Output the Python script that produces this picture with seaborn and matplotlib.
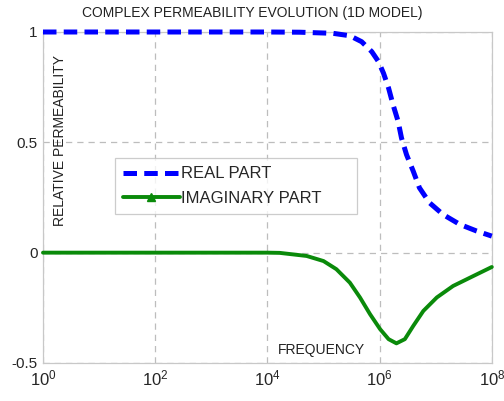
import numpy as np
import pandas as pd
import seaborn as sns
from matplotlib import pyplot as plt
from matplotlib.lines import Line2D
import matplotlib.ticker as mtick

# values (frequency as log10, Hz)
real_logf = [0, 1, 2, 3, 4, 4.58, 5.17, 5.47, 5.68, 5.86, 5.98, 6.07, 6.16, 6.24,
             6.33, 6.39, 6.48, 6.60, 6.71, 6.89, 7.13, 7.43, 7.73, 8.0]
real_part = [1.0, 1.0, 1.0, 1.0, 1.0, 0.999, 0.994, 0.983, 0.956, 0.911, 0.866, 0.813, 0.746, 0.670,
             0.595, 0.52, 0.444, 0.369, 0.294, 0.226, 0.173, 0.128, 0.098, 0.075]

imag_logf = [0, 1, 2, 3, 4, 4.22, 4.70, 5.0, 5.23, 5.47, 5.65, 5.83, 6.01, 6.16, 6.30,
             6.45, 6.60, 6.78, 7.02, 7.31, 7.67, 8.0]
imag_part = [0.0, 0.0, 0.0, 0.0, 0.0, -0.001, -0.015, -0.038, -0.075, -0.136, -0.203, -0.279, -0.347, -0.392, -0.411,
             -0.392, -0.332, -0.264, -0.203, -0.151, -0.106, -0.065]

y_ticks = [-0.5, 0, 0.5, 1]
y_ticklabels = ["-0.5", "0", "0.5", "1"]
x_ticks = [1e0, 1e2, 1e4, 1e6, 1e8]

real_df = pd.DataFrame({"freq": 10.0 ** np.array(real_logf), "mu": real_part})
imag_df = pd.DataFrame({"freq": 10.0 ** np.array(imag_logf), "mu": imag_part})

sns.set_style("white")
plt.rcParams["font.family"] = ["Liberation Sans", "DejaVu Sans"]
plt.rcParams["mathtext.default"] = "regular"

fig = plt.figure(figsize=(5.04, 4.01), dpi=100)
ax = fig.add_axes([0.0853, 0.0948, 0.8905, 0.8254])

blue_ls = (0, (2.7, 1.45))
sns.lineplot(data=real_df, x="freq", y="mu", ax=ax, color="#0000ff",
             linewidth=3.6, linestyle=blue_ls, dash_capstyle="butt",
             clip_on=False, zorder=4)
sns.lineplot(data=imag_df, x="freq", y="mu", ax=ax, color="#0a8a0a",
             linewidth=2.8, clip_on=False, zorder=3)

ax.set_xscale("log")
ax.set_xlim(1e0, 1e8)
ax.set_ylim(-0.5, 1)
ax.set_xticks(x_ticks)
ax.xaxis.set_minor_locator(mtick.NullLocator())
ax.set_yticks(y_ticks)
ax.set_yticklabels(y_ticklabels)
ax.tick_params(axis="x", labelsize=12, direction="in", length=4, color="#b8b8b8", pad=4)
ax.tick_params(axis="y", labelsize=11, direction="in", length=4, color="#b8b8b8", pad=4)

ax.grid(True, color="#bdbdbd", linestyle=(0, (5, 4)), linewidth=0.9)
for sp in ax.spines.values():
    sp.set_color("#c8c8c8")
    sp.set_linewidth(0.9)

ax.set_xlabel("")
ax.set_ylabel("")
ax.text(0.037, 0.672, "RELATIVE PERMEABILITY", transform=ax.transAxes,
        rotation=90, ha="center", va="center", fontsize=10, color="#222222")
ax.text(0.62, 0.04, "FREQUENCY", transform=ax.transAxes,
        ha="center", va="center", fontsize=10, color="#222222")
fig.text(0.5, 0.968, "COMPLEX PERMEABILITY EVOLUTION (1D MODEL)",
         ha="center", va="center", fontsize=10, color="#222222")

handles = [Line2D([], [], color="#0000ff", linewidth=3.6, linestyle=blue_ls),
           Line2D([], [], color="#0a8a0a", linewidth=2.8, marker="^", markersize=6)]
leg = ax.legend(handles, ["REAL PART", "IMAGINARY PART"], loc="upper left",
                bbox_to_anchor=(0.16, 0.4, 0.539, 0.219), mode="expand",
                fontsize=12, frameon=True, fancybox=False,
                handlelength=3.4, handletextpad=0.1, labelspacing=0.55,
                borderpad=0.5, borderaxespad=0)
leg.get_frame().set_edgecolor("#c0c0c0")
leg.get_frame().set_linewidth(0.9)

fig.savefig("out.png", dpi=100)
